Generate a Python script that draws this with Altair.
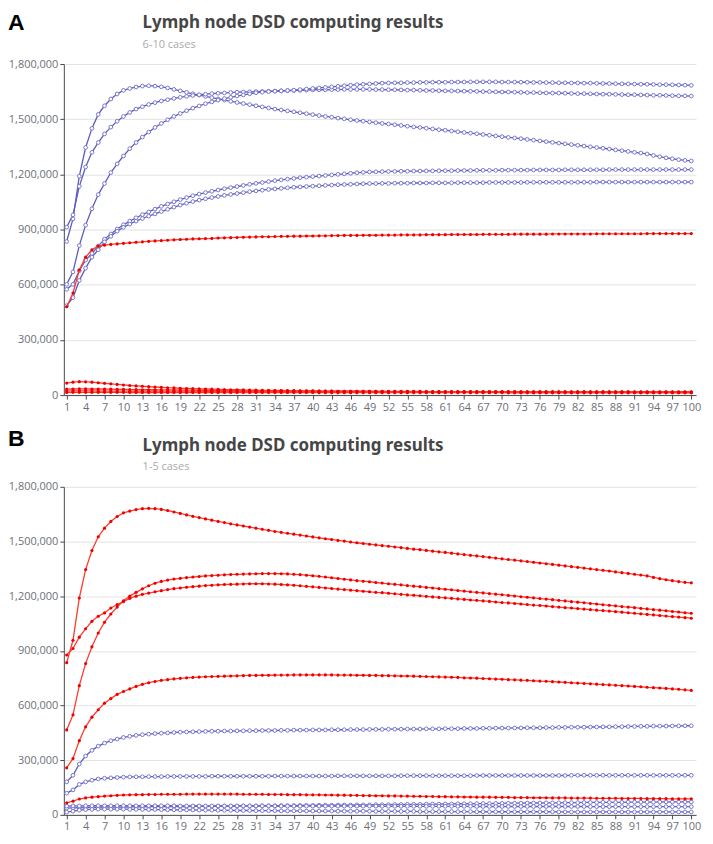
import altair as alt
import pandas as pd

# ---------------- data (values in thousands) ----------------
X_TICKS = list(range(1, 101, 3))
Y_TICKS = [0, 300000, 600000, 900000, 1200000, 1500000, 1800000]
TITLE = "Lymph node DSD computing results"

A_BLUE_1 = [
    835, 958, 1190, 1346, 1450, 1526, 1573, 1610, 1637, 1657,
    1667, 1675, 1680, 1682, 1680, 1676, 1670, 1662, 1654, 1646,
    1638, 1631, 1624, 1617, 1610, 1604, 1597, 1591, 1585, 1579,
    1573, 1567, 1561, 1555, 1550, 1545, 1540, 1535, 1530, 1525,
    1520, 1515, 1511, 1506, 1502, 1497, 1493, 1489, 1485, 1481,
    1477, 1474, 1470, 1466, 1462, 1458, 1455, 1451, 1447, 1443,
    1440, 1436, 1432, 1428, 1424, 1421, 1417, 1413, 1409, 1405,
    1401, 1398, 1394, 1390, 1386, 1382, 1378, 1374, 1370, 1366,
    1362, 1358, 1354, 1350, 1346, 1342, 1338, 1333, 1329, 1325,
    1320, 1316, 1311, 1303, 1296, 1290, 1285, 1280, 1276, 1273,
]
A_BLUE_2 = [
    913, 980, 1135, 1240, 1320, 1373, 1420, 1457, 1489, 1515,
    1537, 1555, 1568, 1580, 1590, 1599, 1606, 1613, 1619, 1624,
    1629, 1633, 1636, 1639, 1641, 1643, 1645, 1647, 1648, 1649,
    1650, 1651, 1652, 1653, 1654, 1655, 1656, 1657, 1658, 1659,
    1660, 1660, 1661, 1661, 1662, 1662, 1662, 1662, 1662, 1661,
    1661, 1660, 1660, 1659, 1658, 1658, 1657, 1656, 1656, 1655,
    1654, 1654, 1653, 1652, 1652, 1651, 1650, 1650, 1649, 1648,
    1648, 1647, 1646, 1645, 1645, 1644, 1643, 1642, 1642, 1641,
    1640, 1639, 1639, 1638, 1637, 1636, 1636, 1635, 1634, 1633,
    1633, 1632, 1631, 1630, 1630, 1629, 1628, 1627, 1627, 1626,
]
A_BLUE_3 = [
    602, 670, 813, 924, 1013, 1090, 1150, 1210, 1257, 1300,
    1340, 1373, 1403, 1430, 1455, 1477, 1497, 1515, 1531, 1546,
    1560, 1572, 1584, 1594, 1604, 1612, 1619, 1626, 1632, 1638,
    1644, 1647, 1650, 1652, 1654, 1656, 1658, 1661, 1664, 1667,
    1670, 1673, 1676, 1679, 1682, 1685, 1688, 1690, 1692, 1694,
    1696, 1697, 1698, 1698, 1699, 1699, 1700, 1700, 1701, 1701,
    1701, 1702, 1702, 1702, 1703, 1703, 1703, 1703, 1703, 1702,
    1702, 1702, 1701, 1701, 1700, 1700, 1699, 1699, 1698, 1698,
    1697, 1697, 1696, 1696, 1695, 1694, 1694, 1693, 1692, 1692,
    1691, 1690, 1690, 1689, 1688, 1688, 1687, 1686, 1685, 1684,
]
A_BLUE_4 = [
    575, 602, 676, 734, 770, 810, 848, 876, 903, 926,
    946, 964, 981, 996, 1011, 1026, 1039, 1051, 1063, 1074,
    1084, 1093, 1101, 1108, 1115, 1122, 1128, 1134, 1140, 1146,
    1151, 1156, 1161, 1166, 1170, 1174, 1178, 1182, 1185, 1188,
    1191, 1194, 1197, 1200, 1203, 1206, 1209, 1211, 1213, 1214,
    1215, 1216, 1216, 1217, 1217, 1218, 1218, 1219, 1219, 1220,
    1220, 1220, 1221, 1221, 1221, 1222, 1222, 1222, 1222, 1223,
    1223, 1223, 1223, 1223, 1224, 1224, 1224, 1224, 1224, 1225,
    1225, 1225, 1225, 1225, 1225, 1225, 1226, 1226, 1226, 1226,
    1226, 1226, 1226, 1226, 1226, 1226, 1226, 1226, 1226, 1226,
]
A_BLUE_5 = [
    486, 530, 623, 690, 750, 790, 833, 863, 891, 912,
    930, 946, 960, 973, 985, 998, 1010, 1022, 1033, 1043,
    1052, 1060, 1067, 1074, 1080, 1086, 1091, 1096, 1101, 1106,
    1110, 1114, 1118, 1121, 1124, 1127, 1130, 1132, 1134, 1136,
    1138, 1140, 1142, 1144, 1145, 1146, 1148, 1149, 1150, 1150,
    1151, 1151, 1152, 1152, 1152, 1153, 1153, 1153, 1154, 1154,
    1154, 1154, 1155, 1155, 1155, 1155, 1155, 1156, 1156, 1156,
    1156, 1156, 1156, 1157, 1157, 1157, 1157, 1157, 1157, 1157,
    1157, 1157, 1157, 1157, 1158, 1158, 1158, 1158, 1158, 1158,
    1158, 1158, 1158, 1158, 1158, 1158, 1158, 1158, 1158, 1158,
]
A_RED_1 = [
    480, 555, 680, 750, 790, 810, 815, 819, 822, 825,
    828, 831, 833, 836, 838, 840, 842, 844, 846, 847,
    849, 850, 851, 852, 854, 855, 856, 857, 858, 859,
    860, 861, 861, 862, 863, 863, 864, 864, 865, 865,
    866, 866, 867, 867, 868, 868, 868, 869, 869, 869,
    870, 870, 870, 871, 871, 871, 871, 872, 872, 872,
    872, 873, 873, 873, 873, 873, 874, 874, 874, 874,
    874, 875, 875, 875, 875, 875, 875, 876, 876, 876,
    876, 876, 876, 876, 877, 877, 877, 877, 877, 877,
    877, 877, 878, 878, 878, 878, 878, 878, 878, 878,
]
A_RED_2 = [
    65, 70, 73, 72, 70, 67, 64, 61, 58, 55,
    52, 50, 48, 46, 44, 42, 40, 39, 37, 36,
    35, 34, 33, 32, 31, 30, 29, 29, 28, 27,
    27, 26, 26, 25, 25, 24, 24, 23, 23, 23,
    22, 22, 22, 21, 21, 21, 21, 20, 20, 20,
    20, 19, 19, 19, 19, 19, 18, 18, 18, 18,
    18, 18, 17, 17, 17, 17, 17, 17, 17, 16,
    16, 16, 16, 16, 16, 16, 16, 16, 15, 15,
    15, 15, 15, 15, 15, 15, 15, 15, 15, 15,
    15, 15, 15, 15, 15, 15, 15, 14, 14, 14,
]
A_RED_3 = [
    32, 33, 34, 34, 33, 33, 32, 32, 31, 31,
    30, 30, 29, 29, 29, 28, 28, 28, 27, 27,
    27, 26, 26, 26, 25, 25, 25, 25, 24, 24,
    24, 24, 23, 23, 23, 23, 23, 22, 22, 22,
    22, 22, 22, 21, 21, 21, 21, 21, 21, 20,
    20, 20, 20, 20, 20, 20, 20, 19, 19, 19,
    19, 19, 19, 19, 19, 19, 19, 19, 19, 19,
    19, 19, 18, 18, 18, 18, 18, 18, 18, 18,
    18, 18, 18, 18, 18, 18, 18, 18, 18, 18,
    18, 18, 18, 18, 18, 18, 18, 18, 18, 18,
]
A_RED_4 = [
    22, 23, 23, 23, 23, 22, 22, 22, 22, 22,
    21, 21, 21, 21, 21, 21, 21, 21, 21, 21,
    21, 21, 20, 20, 20, 20, 20, 20, 20, 20,
    20, 20, 20, 20, 20, 20, 20, 20, 20, 20,
    19, 19, 19, 19, 19, 19, 19, 19, 19, 19,
    19, 19, 19, 19, 19, 18, 18, 18, 18, 18,
    18, 18, 18, 18, 18, 18, 18, 18, 18, 18,
    17, 17, 17, 17, 17, 17, 17, 17, 17, 17,
    17, 17, 17, 17, 17, 17, 17, 17, 17, 17,
    16, 16, 16, 16, 16, 16, 16, 16, 16, 16,
]
A_RED_5 = [
    14, 15, 15, 15, 15, 15, 15, 15, 15, 15,
    14, 14, 14, 14, 14, 14, 14, 14, 14, 14,
    14, 14, 14, 14, 14, 14, 14, 14, 14, 14,
    14, 14, 14, 14, 14, 14, 14, 14, 14, 14,
    13, 13, 13, 13, 13, 13, 13, 13, 13, 13,
    13, 13, 13, 13, 13, 13, 13, 13, 13, 13,
    13, 13, 13, 13, 13, 13, 13, 13, 13, 13,
    12, 12, 12, 12, 12, 12, 12, 12, 12, 12,
    12, 12, 12, 12, 12, 12, 12, 12, 12, 12,
    12, 12, 12, 12, 12, 12, 12, 12, 12, 12,
]

# panel B: the tallest red curve is the same curve as the tallest blue one in A
B_RED_1 = A_BLUE_1
B_RED_2 = [
    877, 913, 975, 1021, 1062, 1090, 1108, 1135, 1154, 1170,
    1188, 1200, 1210, 1217, 1224, 1230, 1236, 1241, 1245, 1249,
    1252, 1255, 1258, 1260, 1262, 1264, 1265, 1266, 1267, 1268,
    1268, 1268, 1267, 1266, 1264, 1262, 1260, 1257, 1254, 1251,
    1248, 1245, 1242, 1239, 1236, 1233, 1230, 1227, 1224, 1221,
    1219, 1216, 1213, 1210, 1207, 1205, 1202, 1199, 1196, 1193,
    1191, 1188, 1185, 1182, 1179, 1177, 1174, 1171, 1168, 1165,
    1163, 1160, 1157, 1154, 1151, 1149, 1146, 1143, 1140, 1137,
    1135, 1132, 1129, 1126, 1123, 1121, 1118, 1115, 1112, 1109,
    1106, 1103, 1100, 1097, 1094, 1091, 1088, 1085, 1082, 1079,
]
B_RED_3 = [
    466, 549, 709, 830, 922, 998, 1057, 1102, 1140, 1175,
    1200, 1221, 1240, 1257, 1271, 1281, 1288, 1294, 1298, 1302,
    1305, 1308, 1311, 1313, 1315, 1317, 1319, 1320, 1321, 1322,
    1323, 1324, 1324, 1324, 1323, 1322, 1320, 1318, 1315, 1312,
    1309, 1305, 1301, 1297, 1293, 1289, 1285, 1282, 1279, 1275,
    1272, 1268, 1265, 1262, 1258, 1255, 1252, 1248, 1245, 1241,
    1238, 1235, 1231, 1228, 1224, 1221, 1218, 1214, 1211, 1208,
    1204, 1201, 1197, 1194, 1191, 1187, 1184, 1181, 1177, 1174,
    1170, 1167, 1164, 1160, 1157, 1153, 1150, 1147, 1143, 1140,
    1137, 1133, 1130, 1126, 1123, 1120, 1116, 1113, 1109, 1106,
]
B_RED_4 = [
    258, 309, 407, 483, 536, 577, 613, 638, 661, 677,
    691, 705, 716, 725, 732, 738, 742, 746, 749, 752,
    754, 756, 758, 759, 760, 761, 762, 763, 764, 765,
    765, 766, 766, 767, 767, 767, 768, 768, 768, 768,
    768, 768, 768, 767, 767, 767, 766, 766, 765, 765,
    764, 764, 763, 762, 762, 761, 760, 759, 758, 757,
    756, 755, 754, 752, 751, 750, 748, 747, 745, 744,
    742, 741, 739, 738, 736, 734, 733, 731, 729, 727,
    725, 723, 721, 719, 717, 715, 713, 711, 709, 707,
    705, 703, 700, 698, 696, 694, 691, 689, 686, 683,
]
B_RED_5 = [
    66, 75, 87, 93, 97, 100, 103, 105, 107, 109,
    110, 111, 111, 112, 112, 113, 113, 113, 113, 114,
    114, 114, 114, 114, 114, 114, 114, 114, 113, 113,
    113, 113, 112, 112, 112, 111, 111, 111, 110, 110,
    110, 109, 109, 108, 108, 107, 107, 106, 106, 105,
    105, 104, 104, 103, 103, 102, 102, 101, 101, 100,
    100, 99, 99, 98, 98, 97, 97, 97, 96, 96,
    96, 95, 95, 95, 94, 94, 94, 93, 93, 93,
    92, 92, 92, 92, 91, 91, 91, 91, 90, 90,
    90, 90, 89, 89, 89, 89, 88, 88, 88, 88,
]
B_BLUE_1 = [
    181, 217, 279, 323, 354, 377, 394, 407, 416, 425,
    431, 436, 440, 443, 446, 448, 450, 452, 454, 455,
    456, 457, 458, 459, 459, 460, 460, 461, 461, 462,
    462, 463, 463, 463, 464, 464, 465, 465, 465, 466,
    466, 466, 467, 467, 467, 468, 468, 468, 469, 469,
    469, 470, 470, 470, 471, 471, 471, 472, 472, 472,
    473, 473, 473, 474, 474, 474, 475, 475, 476, 476,
    476, 477, 477, 478, 478, 478, 479, 479, 480, 480,
    481, 481, 481, 482, 482, 483, 483, 484, 484, 485,
    485, 486, 486, 487, 487, 487, 488, 488, 489, 489,
]
B_BLUE_2 = [
    119, 137, 167, 181, 190, 197, 201, 203, 205, 207,
    208, 209, 209, 210, 210, 210, 211, 211, 211, 211,
    211, 211, 211, 212, 212, 212, 212, 212, 212, 212,
    212, 212, 212, 213, 213, 213, 213, 213, 213, 213,
    213, 213, 213, 214, 214, 214, 214, 214, 214, 214,
    214, 214, 214, 215, 215, 215, 215, 215, 215, 215,
    215, 215, 215, 215, 215, 216, 216, 216, 216, 216,
    216, 216, 216, 216, 216, 216, 216, 216, 216, 216,
    217, 217, 217, 217, 217, 217, 217, 217, 217, 217,
    217, 217, 217, 217, 217, 217, 217, 217, 217, 217,
]
B_BLUE_3 = [
    37, 38, 39, 40, 41, 41, 42, 42, 43, 43,
    44, 44, 44, 45, 45, 45, 46, 46, 46, 46,
    47, 47, 47, 47, 48, 48, 48, 48, 49, 49,
    49, 50, 50, 50, 51, 51, 51, 52, 52, 52,
    53, 53, 53, 54, 54, 54, 55, 55, 55, 56,
    56, 56, 57, 57, 58, 58, 58, 59, 59, 59,
    60, 60, 61, 61, 61, 62, 62, 62, 63, 63,
    64, 64, 64, 65, 65, 65, 66, 66, 66, 67,
    67, 67, 68, 68, 68, 69, 69, 69, 69, 70,
    70, 70, 70, 70, 71, 71, 71, 71, 71, 71,
]
B_BLUE_4 = [
    48, 49, 49, 50, 50, 50, 50, 50, 50, 50,
    50, 50, 50, 50, 50, 50, 50, 50, 49, 49,
    49, 49, 49, 49, 49, 49, 49, 49, 49, 49,
    49, 49, 49, 49, 48, 48, 48, 48, 48, 48,
    48, 48, 48, 48, 48, 48, 48, 48, 48, 48,
    47, 47, 47, 47, 47, 47, 47, 47, 47, 47,
    47, 47, 47, 47, 47, 46, 46, 46, 46, 46,
    46, 46, 46, 46, 46, 46, 46, 46, 46, 46,
    46, 46, 46, 45, 45, 45, 45, 45, 45, 45,
    45, 45, 45, 45, 45, 45, 45, 45, 45, 45,
]
B_BLUE_5 = [
    15, 20, 26, 29, 30, 31, 31, 31, 31, 31,
    30, 30, 30, 29, 29, 29, 28, 28, 27, 27,
    27, 26, 26, 26, 25, 25, 25, 24, 24, 24,
    23, 23, 23, 23, 22, 22, 22, 22, 21, 21,
    21, 21, 21, 20, 20, 20, 20, 20, 20, 19,
    19, 19, 19, 19, 19, 19, 18, 18, 18, 18,
    18, 18, 18, 18, 18, 17, 17, 17, 17, 17,
    17, 17, 17, 17, 17, 17, 17, 17, 16, 16,
    16, 16, 16, 16, 16, 16, 16, 16, 16, 16,
    16, 16, 16, 16, 16, 16, 16, 16, 16, 16,
]

PANEL_A = [
    ("a_b1", "blue", A_BLUE_1), ("a_b2", "blue", A_BLUE_2), ("a_b3", "blue", A_BLUE_3),
    ("a_b4", "blue", A_BLUE_4), ("a_b5", "blue", A_BLUE_5),
    ("a_r1", "red", A_RED_1), ("a_r2", "red", A_RED_2), ("a_r3", "red", A_RED_3),
    ("a_r4", "red", A_RED_4), ("a_r5", "red", A_RED_5),
]
PANEL_B = [
    ("b_b1", "blue", B_BLUE_1), ("b_b2", "blue", B_BLUE_2), ("b_b3", "blue", B_BLUE_3),
    ("b_b4", "blue", B_BLUE_4), ("b_b5", "blue", B_BLUE_5),
    ("b_r1", "red", B_RED_1), ("b_r2", "red", B_RED_2), ("b_r3", "red", B_RED_3),
    ("b_r4", "red", B_RED_4), ("b_r5", "red", B_RED_5),
]


def to_frame(groups):
    rows = []
    for name, kind, vals in groups:
        for i, v in enumerate(vals):
            rows.append({"series": name, "kind": kind, "x": i + 1, "y": v * 1000})
    return pd.DataFrame(rows)


BLUE_LINE = "#5c5cbc"
BLUE_PT = "#7676ce"
RED_LINE = "#ff3b30"
RED_PT = "#ee0000"
FONT = "Open Sans"
PLOT_W = 634


def text_layer(txt, x, y, size, weight, color, font):
    return alt.Chart(pd.DataFrame({"t": [txt]})).mark_text(
        font=font, fontSize=size, fontWeight=weight, color=color,
        align="left", baseline="alphabetic").encode(
        x=alt.value(x), y=alt.value(y), text="t:N")


def panel(groups, subtitle, letter, letter_y, h):
    df = to_frame(groups)
    blue = df[df["kind"] == "blue"]
    red = df[df["kind"] == "red"]
    x = alt.X("x:Q", scale=alt.Scale(domain=[0.55, 100.75], nice=False, zero=False),
              axis=alt.Axis(values=X_TICKS, title=None, grid=False, labelFlush=False,
                            labelOverlap=False, tickSize=4, labelPadding=2))
    y = alt.Y("y:Q", scale=alt.Scale(domain=[0, 1800000], nice=False),
              axis=alt.Axis(values=Y_TICKS, format=",",
                            labelExpr="format(datum.value, ',')",
                            title=None, grid=True, tickSize=4, labelPadding=2))
    bl = alt.Chart(blue).mark_line(color=BLUE_LINE, strokeWidth=1.3).encode(
        x=x, y=y, detail="series:N")
    bp = alt.Chart(blue).mark_point(shape="circle", filled=True, fill="white",
                                    stroke=BLUE_PT, strokeWidth=1, size=14, opacity=1).encode(
        x=x, y=y, detail="series:N")
    rl = alt.Chart(red).mark_line(color=RED_LINE, strokeWidth=1.3).encode(
        x=x, y=y, detail="series:N")
    rp = alt.Chart(red).mark_circle(color=RED_PT, size=10, opacity=1).encode(
        x=x, y=y, detail="series:N")
    lab = text_layer(letter, -56, letter_y, 23, "bold", "#000000", "Liberation Sans")
    ttl = text_layer(TITLE, 79, -36, 17, "bold", "#464646", "Noto Sans")
    sub = text_layer(subtitle, 79, -16.5, 11, "normal", "#aaaaaa", FONT)
    return alt.layer(bl, bp, rl, rp, lab, ttl, sub).properties(width=PLOT_W, height=h)


a = panel(PANEL_A, "6-10 cases", "A", -34, 332)
b = panel(PANEL_B, "1-5 cases", "B", -41, 329)

chart = alt.vconcat(a, b, spacing=92, bounds="flush").properties(
    padding={"left": 0, "top": 3, "right": 4, "bottom": 0}
).configure_view(stroke=None).configure_axis(
    labelColor="#6e7079", labelFont=FONT, labelFontSize=11,
    domainColor="#4a4a4a", tickColor="#4a4a4a", gridColor="#e3e3e3",
)

chart.save("out.html", embed_options={"renderer": "svg", "actions": False})
